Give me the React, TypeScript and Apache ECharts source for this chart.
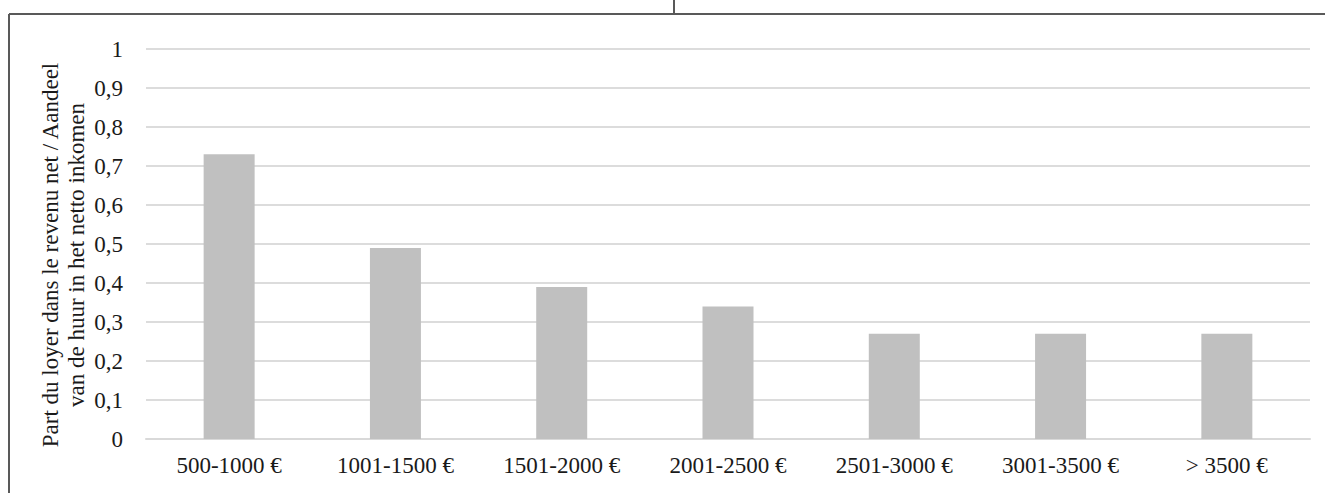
import React, { useEffect, useRef } from "react";
import * as echarts from "echarts";

const categories = [
  "500-1000 €",
  "1001-1500 €",
  "1501-2000 €",
  "2001-2500 €",
  "2501-3000 €",
  "3001-3500 €",
  "> 3500 €",
];
const shareValues = [0.73, 0.49, 0.39, 0.34, 0.27, 0.27, 0.27];
const yAxisTitle = "Part du loyer dans le revenu net / Aandeel\nvan de huur in het netto inkomen";

const FONT = "'Liberation Serif', 'Times New Roman', serif";

export default function App() {
  const ref = useRef<HTMLDivElement>(null);
  useEffect(() => {
    if (!ref.current) return;
    const chart = echarts.init(ref.current, undefined, { renderer: "svg" });
    chart.setOption({
      animation: false,
      backgroundColor: "#ffffff",
      grid: { left: 146, right: 15, top: 49, bottom: 54, containLabel: false },
      xAxis: {
        type: "category",
        data: categories,
        axisLine: { show: true, lineStyle: { color: "#d9d9d9", width: 2 } },
        axisTick: { show: false },
        axisLabel: { color: "#1a1a1a", fontFamily: FONT, fontSize: 23, margin: 15 },
      },
      yAxis: {
        type: "value",
        min: 0,
        max: 1,
        interval: 0.1,
        axisLine: { show: false },
        axisTick: { show: false },
        splitLine: { lineStyle: { color: "#dcdcdc", width: 2 } },
        axisLabel: {
          color: "#1a1a1a",
          fontFamily: FONT,
          fontSize: 23,
          margin: 23,
          formatter: (v: number) => String(Math.round(v * 10) / 10).replace(".", ","),
        },
      },
      series: [
        {
          type: "bar",
          data: shareValues,
          barWidth: 51,
          itemStyle: { color: "#c0c0c0" },
        },
      ],
      graphic: [
        {
          type: "text",
          x: 63,
          y: 255,
          rotation: Math.PI / 2,
          style: {
            text: yAxisTitle,
            fontFamily: FONT,
            fontSize: 23,
            lineHeight: 26,
            fill: "#1a1a1a",
            textAlign: "center",
            textVerticalAlign: "middle",
          },
        },
        {
          type: "line",
          shape: { x1: 9, y1: 14, x2: 1325, y2: 14 },
          style: { stroke: "#595959", lineWidth: 2 },
        },
        {
          type: "line",
          shape: { x1: 9, y1: 14, x2: 9, y2: 493 },
          style: { stroke: "#595959", lineWidth: 2 },
        },
        {
          type: "line",
          shape: { x1: 674, y1: 0, x2: 674, y2: 14 },
          style: { stroke: "#595959", lineWidth: 2 },
        },
      ],
    });
    return () => chart.dispose();
  }, []);
  return (
    <div
      ref={ref}
      style={{ position: "fixed", left: 0, top: 0, width: 1325, height: 493 }}
    />
  );
}
